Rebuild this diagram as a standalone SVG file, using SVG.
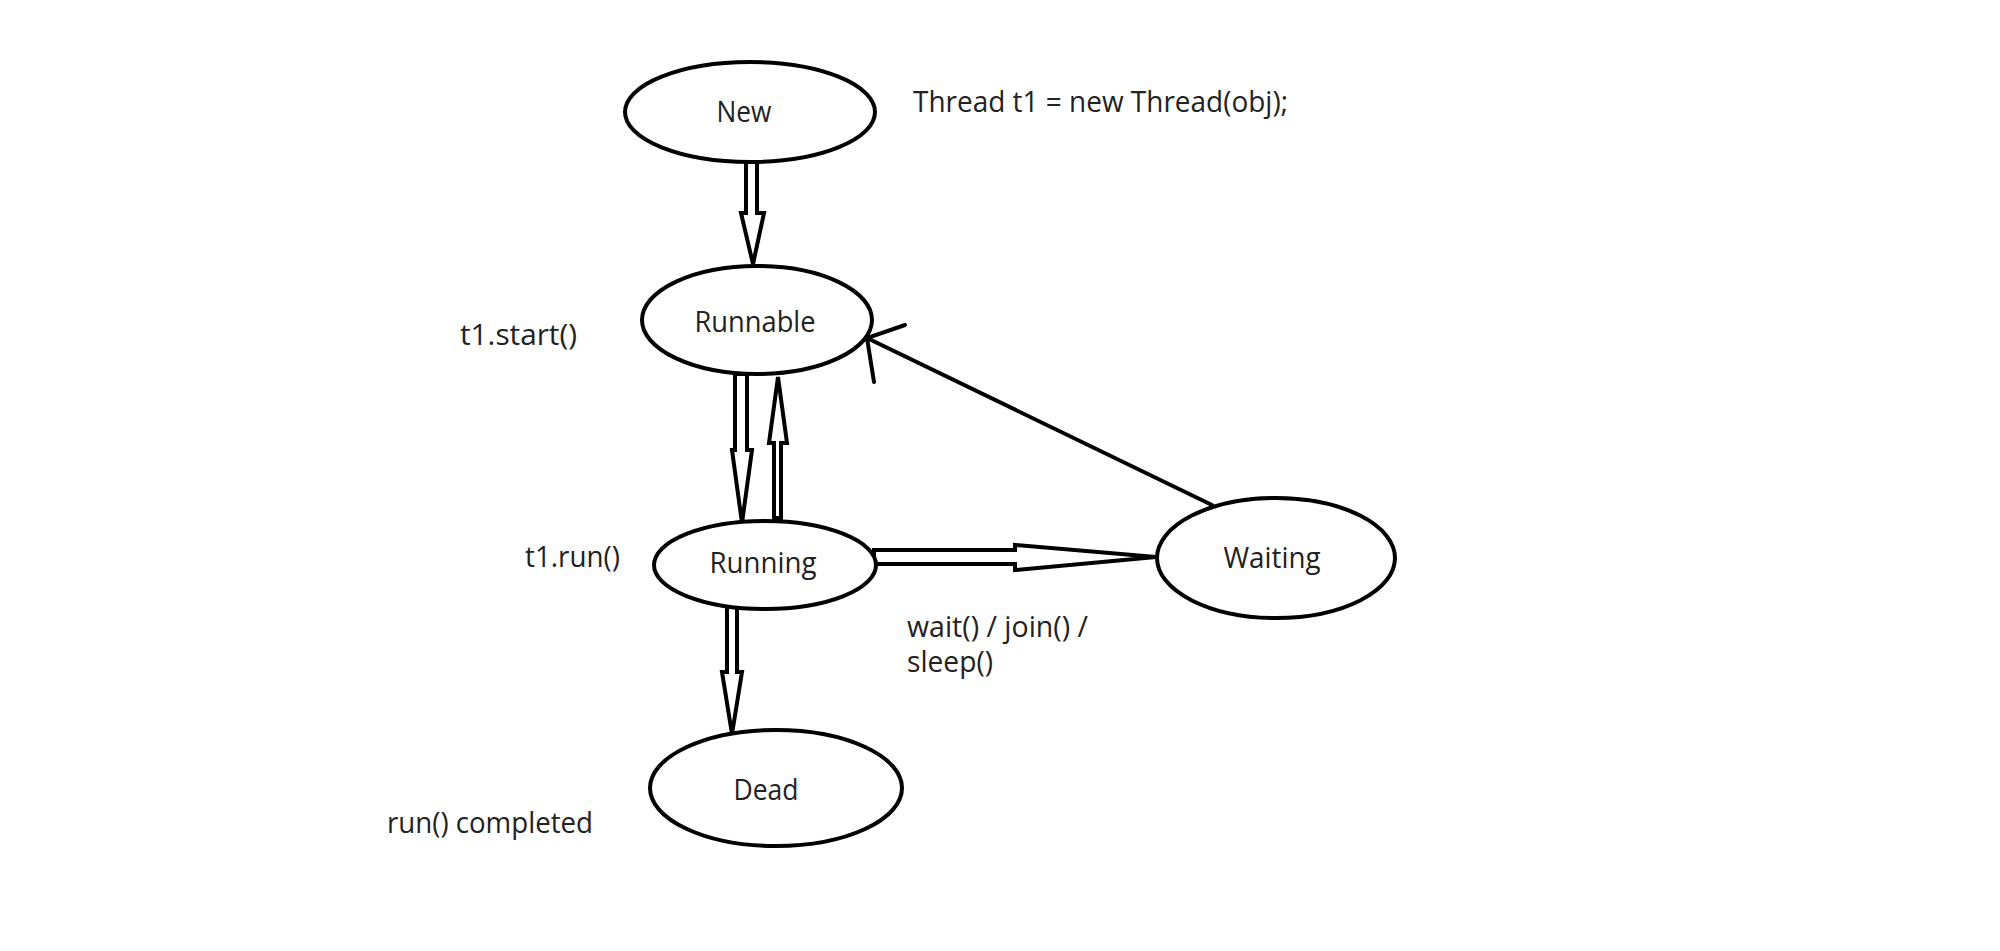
<svg xmlns="http://www.w3.org/2000/svg" width="2000" height="951" viewBox="0 0 2000 951">
<style>
.node{fill:#fff;stroke:#000;stroke-width:4}
.lbl{font-family:"Open Sans","Noto Sans",sans-serif;font-size:29px;fill:#222}
.ctr{text-anchor:middle}
.arr{fill:#fff;stroke:#000;stroke-width:4;stroke-linejoin:miter}
.ln{fill:none;stroke:#000;stroke-width:4;stroke-linecap:round}
</style>
<rect width="2000" height="951" fill="#fff"/>
<g id="connectors">
<polygon class="arr" points="746,160 757,160 757,213 764,213 753,264 741,213 746,213"/>
<polygon class="arr" points="735,374 747,374 747,450 752,450 742,523 732,450 735,450"/>
<polygon class="arr" points="774,518 781,518 781,443 787,443 778,377 769,443 774,443"/>
<polygon class="arr" points="727,606 737,606 737,672 742,672 732,734 722,672 727,672"/>
<polygon class="arr" points="874,550 1015,550 1015,545 1156,557 1015,570 1015,564 874,564"/>
<g id="waiting-to-runnable">
<line class="ln" x1="1212" y1="505" x2="867" y2="338"/>
<polyline class="ln" points="905,325 867,338 874,382"/>
</g>
</g>
<g id="node-new">
<ellipse class="node" cx="750" cy="112" rx="125" ry="50"/>
<text class="lbl ctr" x="744" y="122" textLength="55" lengthAdjust="spacingAndGlyphs">New</text>
</g>
<g id="node-runnable">
<ellipse class="node" cx="757" cy="320" rx="115" ry="54"/>
<text class="lbl ctr" x="755" y="332" textLength="121" lengthAdjust="spacingAndGlyphs">Runnable</text>
</g>
<g id="node-running">
<ellipse class="node" cx="765" cy="565" rx="111" ry="44"/>
<text class="lbl ctr" x="763" y="573" textLength="107" lengthAdjust="spacingAndGlyphs">Running</text>
</g>
<g id="node-waiting">
<ellipse class="node" cx="1276" cy="558" rx="119" ry="60"/>
<text class="lbl ctr" x="1272" y="568" textLength="97" lengthAdjust="spacingAndGlyphs">Waiting</text>
</g>
<g id="node-dead">
<ellipse class="node" cx="776" cy="788" rx="126" ry="58"/>
<text class="lbl ctr" x="766" y="800" textLength="65" lengthAdjust="spacingAndGlyphs">Dead</text>
</g>
<g id="labels">
<text class="lbl" x="913" y="112" textLength="375" lengthAdjust="spacingAndGlyphs">Thread t1 = new Thread(obj);</text>
<text class="lbl" x="460" y="345" textLength="117" lengthAdjust="spacingAndGlyphs">t1.start()</text>
<text class="lbl" x="525" y="567" textLength="95" lengthAdjust="spacingAndGlyphs">t1.run()</text>
<text class="lbl" x="907" y="637" textLength="181" lengthAdjust="spacingAndGlyphs">wait() / join() /</text>
<text class="lbl" x="907" y="672" textLength="86" lengthAdjust="spacingAndGlyphs">sleep()</text>
<text class="lbl" x="387" y="833" textLength="206" lengthAdjust="spacingAndGlyphs">run() completed</text>
</g>
</svg>
